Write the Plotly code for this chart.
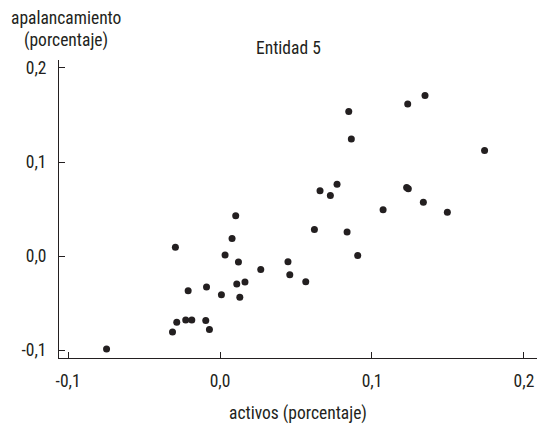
import plotly.graph_objects as go

# Variación de activos y apalancamiento (Entidad 5)
activos = [-0.0747, -0.0313, -0.0285, -0.0226, -0.0186, -0.0094, -0.0070,
           -0.0294, -0.0210, -0.0089, 0.0009, 0.0033, 0.0079, 0.0103,
           0.0121, 0.0110, 0.0164, 0.0130, 0.0268, 0.0447, 0.0459, 0.0564,
           0.0621, 0.0658, 0.0726, 0.0770, 0.0836, 0.0847, 0.0864, 0.0906,
           0.1073, 0.1228, 0.1239, 0.1338, 0.1235, 0.1349, 0.1496, 0.1741]
apalancamiento = [-0.0990, -0.0808, -0.0704, -0.0680, -0.0680, -0.0687, -0.0783,
                  0.0092, -0.0370, -0.0330, -0.0413, 0.0010, 0.0185, 0.0427,
                  -0.0064, -0.0299, -0.0277, -0.0438, -0.0143, -0.0061, -0.0200, -0.0275,
                  0.0281, 0.0694, 0.0644, 0.0764, 0.0256, 0.1537, 0.1244, 0.0006,
                  0.0491, 0.0729, 0.0715, 0.0572, 0.1618, 0.1708, 0.0465, 0.1121]

tick_vals = [-0.1, 0.0, 0.1, 0.2]
tick_text = ["-0,1", "0,0", "0,1", "0,2"]

FONT = "Liberation Sans Narrow, Arial Narrow, Roboto Condensed, sans-serif"
INK = "#231f20"
FS = 17.5

fig = go.Figure(
    go.Scatter(
        x=activos, y=apalancamiento, mode="markers",
        marker=dict(size=7, color=INK, line=dict(width=0)),
        hoverinfo="x+y",
    )
)

axis_common = dict(
    showgrid=False, zeroline=False, showline=True, linecolor=INK, linewidth=1,
    ticks="inside", ticklen=6, tickwidth=1, tickcolor=INK,
    tickvals=tick_vals, ticktext=tick_text,
    tickfont=dict(family=FONT, size=FS, color=INK),
)

fig.update_xaxes(
    range=[-0.106, 0.2086], ticklabelstandoff=7,
    title=dict(text="activos (porcentaje)", font=dict(family=FONT, size=FS, color=INK), standoff=16),
    **axis_common,
)
fig.update_yaxes(
    range=[-0.1085, 0.2085], ticklabelstandoff=8,
    **axis_common,
)

# y-axis title, two lines above the axis
for text, shift in (("apalancamiento", 42), ("(porcentaje)", 20)):
    fig.add_annotation(
        text=text, xref="paper", yref="paper",
        x=0.0146, y=1.0, yshift=shift, xanchor="center", yanchor="middle",
        showarrow=False, font=dict(family=FONT, size=FS, color=INK),
    )

fig.add_annotation(
    text="Entidad 5", xref="paper", yref="paper",
    x=0.481, y=1.0, yshift=12, xanchor="center", yanchor="middle",
    showarrow=False, font=dict(family=FONT, size=FS, color=INK),
)

fig.update_layout(
    width=540, height=427,
    margin=dict(l=59, r=3, t=60, b=69),
    paper_bgcolor="white", plot_bgcolor="white",
    showlegend=False,
    separators=",.",
)

fig.write_html("out.html")
